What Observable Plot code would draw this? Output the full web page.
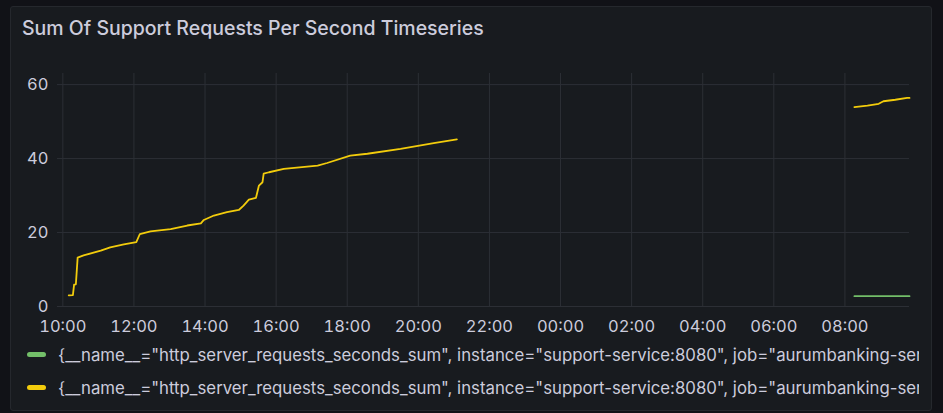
<!DOCTYPE html>
<html><head><meta charset="utf-8">
<script src="https://cdn.jsdelivr.net/npm/d3@7"></script>
<script src="https://cdn.jsdelivr.net/npm/@observablehq/plot@0.6"></script>
<style>
html,body{margin:0;padding:0;background:#111217;width:943px;height:413px;overflow:hidden;font-family:Inter,sans-serif;}
#panel{position:absolute;left:10px;top:6px;width:922px;height:405px;background:#181b1f;border:1px solid #25282d;border-radius:3px;box-sizing:border-box;}
#title{position:absolute;left:22px;top:16px;font-size:19.5px;font-weight:500;color:#ccccdc;white-space:nowrap;line-height:normal;}
#chart{position:absolute;left:0;top:0;}
#legend{position:absolute;left:27px;top:338px;width:892px;overflow:hidden;white-space:nowrap;font-size:16.8px;color:#ccccdc;}
.item{height:33px;display:flex;align-items:center;}
.sw{width:19px;height:5px;border-radius:2.5px;margin-right:12px;flex:none;}
</style>
</head><body>
<div id="panel"></div>
<div id="title">Sum Of Support Requests Per Second Timeseries</div>
<div id="chart"></div>
<div id="legend"></div>
<script>
const seriesNames = [
  '{__name__="http_server_requests_seconds_sum", instance="support-service:8080", job="aurumbanking-service"}',
  '{__name__="http_server_requests_seconds_sum", instance="support-service:8080", job="aurumbanking-service", uri="/support"}'
];
const seriesColors = ["#73BF69", "#F2CC0C"];

const greenTimes = ["2024-05-02 08:16", "2024-05-02 09:49"];
const greenValues = [2.8, 2.8];

const yellowTimes = [
  "2024-05-01 10:10","2024-05-01 10:17","2024-05-01 10:19","2024-05-01 10:22","2024-05-01 10:25",
  "2024-05-01 10:35","2024-05-01 11:04","2024-05-01 11:20","2024-05-01 11:43","2024-05-01 12:04",
  "2024-05-01 12:10","2024-05-01 12:28","2024-05-01 13:02","2024-05-01 13:30","2024-05-01 13:53",
  "2024-05-01 13:58","2024-05-01 14:15","2024-05-01 14:37","2024-05-01 14:57","2024-05-01 15:05",
  "2024-05-01 15:14","2024-05-01 15:26","2024-05-01 15:31","2024-05-01 15:37","2024-05-01 15:39",
  "2024-05-01 15:48","2024-05-01 16:13","2024-05-01 17:10","2024-05-01 17:26","2024-05-01 18:05",
  "2024-05-01 18:34","2024-05-01 19:30","2024-05-01 20:26","2024-05-01 21:05",
  "2024-05-01 22:00",
  "2024-05-02 08:16","2024-05-02 08:38","2024-05-02 08:57","2024-05-02 09:05","2024-05-02 09:25",
  "2024-05-02 09:45","2024-05-02 09:49"
];
const yellowValues = [
  3.0,3.1,5.9,6.0,13.2,
  13.8,15.1,16.0,16.8,17.4,
  19.6,20.3,20.9,21.9,22.5,
  23.4,24.6,25.5,26.1,27.3,
  28.9,29.4,32.7,33.6,35.9,
  36.3,37.2,38.1,38.8,40.8,
  41.3,42.6,44.2,45.2,
  null,
  53.9,54.3,54.8,55.5,55.9,
  56.4,56.4
];

const xDomain = ["2024-05-01 09:51", "2024-05-02 09:49"];
const xTicks = ["2024-05-01 10:00","2024-05-01 12:00","2024-05-01 14:00","2024-05-01 16:00",
  "2024-05-01 18:00","2024-05-01 20:00","2024-05-01 22:00","2024-05-02 00:00",
  "2024-05-02 02:00","2024-05-02 04:00","2024-05-02 06:00","2024-05-02 08:00"];
const yTicks = [0, 20, 40, 60];
const yDomain = [0, 63];

const parse = d3.utcParse("%Y-%m-%d %H:%M");
const yellow = yellowTimes.map((t, i) => ({time: parse(t), value: yellowValues[i]}));
const green = greenTimes.map((t, i) => ({time: parse(t), value: greenValues[i]}));
const xt = xTicks.map(parse);
const grid = "#2c2f35";

const chart = Plot.plot({
  width: 943, height: 340,
  marginLeft: 57, marginRight: 34, marginTop: 73, marginBottom: 34,
  style: {background: "transparent", color: "#ccccdc", fontFamily: "Inter, sans-serif", fontSize: "16.5px"},
  x: {type: "utc", domain: xDomain.map(parse)},
  y: {domain: yDomain},
  marks: [
    Plot.gridY(yTicks, {stroke: grid, strokeOpacity: 1}),
    Plot.gridX(xt, {stroke: grid, strokeOpacity: 1}),
    Plot.axisY(yTicks, {tickSize: 0, tickPadding: 9, label: null, fontSize: 16.5}),
    Plot.axisX(xt, {tickSize: 0, tickPadding: 13.5, label: null, fontSize: 16.5, tickFormat: d3.utcFormat("%H:%M")}),
    Plot.line(green, {x: "time", y: "value", stroke: seriesColors[0], strokeWidth: 1.8}),
    Plot.line(yellow, {x: "time", y: "value", stroke: seriesColors[1], strokeWidth: 1.8})
  ]
});
document.getElementById("chart").appendChild(chart);

const legend = document.getElementById("legend");
seriesNames.forEach((n, i) => {
  const row = document.createElement("div");
  row.className = "item";
  const sw = document.createElement("span");
  sw.className = "sw";
  sw.style.background = seriesColors[i];
  const tx = document.createElement("span");
  tx.textContent = n;
  row.appendChild(sw); row.appendChild(tx);
  legend.appendChild(row);
});
</script>
</body></html>
